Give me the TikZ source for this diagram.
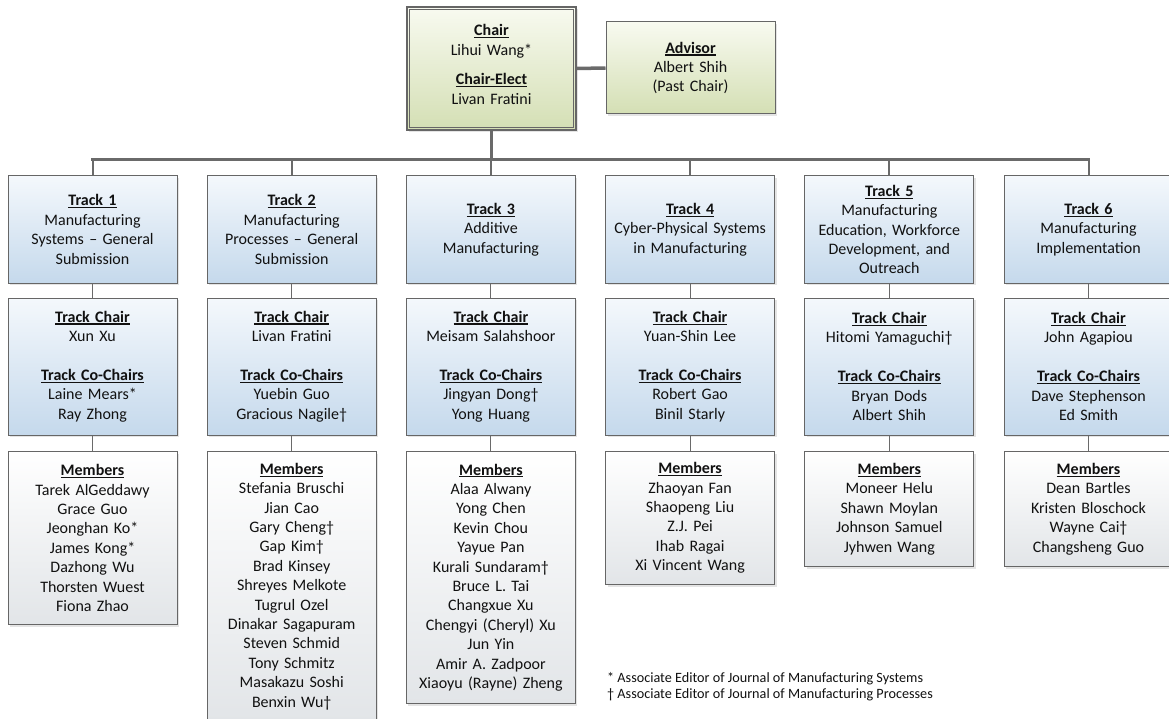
\documentclass[tikz,border=0pt]{standalone}
\usepackage{fontspec}
\setmainfont{Carlito}
\usetikzlibrary{shadows}
\definecolor{linegray}{HTML}{6A6A6A}
\definecolor{bordergray}{HTML}{666666}
\definecolor{txt}{HTML}{111111}
\definecolor{bluetop}{HTML}{F4F8FC}
\definecolor{bluebot}{HTML}{C5D9EC}
\definecolor{memtop}{HTML}{FFFFFF}
\definecolor{membot}{HTML}{E2E5E8}
\definecolor{greentop}{HTML}{F8FAF0}
\definecolor{greenbot}{HTML}{D4DFB4}
\newcommand\ulhead[1]{\textbf{\setbox0\hbox{#1}\rlap{\rule[-2.4pt]{\wd0}{1.1pt}}\box0}}
\tikzset{
  basebox/.style={draw=bordergray, line width=1pt, rectangle, minimum width=169pt,
    text width=165pt, align=center, inner sep=0pt, text=txt,
    font=\fontsize{16}{19.4}\selectfont,
    drop shadow={shadow xshift=2pt, shadow yshift=-2pt, fill=black!35, opacity=0.3}},
  trackbox/.style={basebox, top color=bluetop, bottom color=bluebot, minimum height=107pt},
  chairbox/.style={basebox, top color=bluetop, bottom color=bluebot, minimum height=137pt},
  membox/.style={basebox, top color=memtop, bottom color=membot, minimum height=#1},
  greenbox/.style={basebox, top color=greentop, bottom color=greenbot},
  plaintext/.style={align=center, inner sep=0pt, text=txt, text width=165pt,
    font=\fontsize{16}{19.4}\selectfont},
  thinlink/.style={draw=linegray, line width=1.1pt},
  droplink/.style={draw=linegray, line width=2pt},
  buslink/.style={draw=linegray, line width=3pt},
}
\begin{document}
\begin{tikzpicture}[x=1pt,y=-1pt]
\clip (0,0) rectangle (1169,719);
\fill[white] (0,0) rectangle (1169,719);
% top
\node[greenbox, minimum height=123pt, line width=1.6pt] (chair) at (491.5,68.5) {};
\draw[bordergray, line width=1pt] ([shift={(3pt,-3pt)}]chair.north west) rectangle ([shift={(-3pt,3pt)}]chair.south east);
\node[plaintext] (chairtxt) at (491.5,64.5)
  {\ulhead{Chair}\\Lihui Wang*\\[10pt]\ulhead{Chair-Elect}\\Livan Fratini};
\node[greenbox, minimum height=92pt] (adv) at (690.5,68)
  {\ulhead{Advisor}\\Albert Shih\\(Past Chair)};
\draw[draw=linegray, line width=3.5pt] (chair.east) -- (adv.west);
% tracks
\node[trackbox] (t1) at (92.5,229.5) {\ulhead{Track 1}\\Manufacturing\\Systems – General\\Submission};
\node[trackbox] (t2) at (291.7,229.5) {\ulhead{Track 2}\\Manufacturing\\Processes – General\\Submission};
\node[trackbox] (t3) at (490.9,229.5) {\ulhead{Track 3}\\Additive\\Manufacturing};
\node[trackbox] (t4) at (690.1,229.5) {\ulhead{Track 4}\\Cyber-Physical Systems\\in Manufacturing};
\node[trackbox] (t5) at (889.3,229.5) {\ulhead{Track 5}\\Manufacturing\\Education, Workforce\\Development, and\\Outreach};
\node[trackbox] (t6) at (1088.5,229.5) {\ulhead{Track 6}\\Manufacturing\\Implementation};
% bus
\coordinate (bus) at (491.5,160);
\draw[buslink] (chair.south) -- (chair.south |- bus);
\draw[buslink, line cap=rect] (t1.north |- bus) -- (t6.north |- bus);
\foreach \t in {t1,t2,t3,t4,t5,t6} { \draw[droplink] (\t.north) -- (\t.north |- bus); }
% track chairs
\node[chairbox] (c1) at (92.5,366.5) {\ulhead{Track Chair}\\Xun Xu\\[19.5pt]\ulhead{Track Co-Chairs}\\Laine Mears*\\Ray Zhong};
\node[chairbox] (c2) at (291.7,366.5) {\ulhead{Track Chair}\\Livan Fratini\\[19.5pt]\ulhead{Track Co-Chairs}\\Yuebin Guo\\Gracious Nagile†};
\node[chairbox] (c3) at (490.9,366.5) {\ulhead{Track Chair}\\Meisam Salahshoor\\[19.5pt]\ulhead{Track Co-Chairs}\\Jingyan Dong†\\Yong Huang};
\node[chairbox] (c4) at (690.1,366.5) {\ulhead{Track Chair}\\Yuan-Shin Lee\\[19.5pt]\ulhead{Track Co-Chairs}\\Robert Gao\\Binil Starly};
\node[chairbox] (c5) at (889.3,366.5) {\ulhead{Track Chair}\\Hitomi Yamaguchi†\\[19.5pt]\ulhead{Track Co-Chairs}\\Bryan Dods\\Albert Shih};
\node[chairbox] (c6) at (1088.5,366.5) {\ulhead{Track Chair}\\John Agapiou\\[19.5pt]\ulhead{Track Co-Chairs}\\Dave Stephenson\\Ed Smith};
% members
\node[membox=173pt, anchor=north] (m1) at (92.5,451) {\ulhead{Members}\\Tarek AlGeddawy\\Grace Guo\\Jeonghan Ko*\\James Kong*\\Dazhong Wu\\Thorsten Wuest\\Fiona Zhao};
\node[membox=270pt, anchor=north] (m2) at (291.7,451) {\ulhead{Members}\\Stefania Bruschi\\Jian Cao\\Gary Cheng†\\Gap Kim†\\Brad Kinsey\\Shreyes Melkote\\Tugrul Ozel\\Dinakar Sagapuram\\Steven Schmid\\Tony Schmitz\\Masakazu Soshi\\Benxin Wu†};
\node[membox=252pt, anchor=north] (m3) at (490.9,451) {\ulhead{Members}\\Alaa Alwany\\Yong Chen\\Kevin Chou\\Yayue Pan\\Kurali Sundaram†\\Bruce L. Tai\\Changxue Xu\\Chengyi (Cheryl) Xu\\Jun Yin\\Amir A. Zadpoor\\Xiaoyu (Rayne) Zheng};
\node[membox=133pt, anchor=north] (m4) at (690.1,451) {\ulhead{Members}\\Zhaoyan Fan\\Shaopeng Liu\\Z.J. Pei\\Ihab Ragai\\Xi Vincent Wang};
\node[membox=115pt, anchor=north] (m5) at (889.3,451) {\ulhead{Members}\\Moneer Helu\\Shawn Moylan\\Johnson Samuel\\Jyhwen Wang};
\node[membox=115pt, anchor=north] (m6) at (1088.5,451) {\ulhead{Members}\\Dean Bartles\\Kristen Bloschock\\Wayne Cai†\\Changsheng Guo};
\foreach \i in {1,...,6} {
  \draw[thinlink] (t\i.south) -- (c\i.north);
  \draw[thinlink] (c\i.south) -- (m\i.north);
}
% footnotes
\node[anchor=west, align=left, inner sep=0pt, text=txt, font=\fontsize{14.2}{16}\selectfont] (notes) at (607,687)
  {* Associate Editor of Journal of Manufacturing Systems\\† Associate Editor of Journal of Manufacturing Processes};
\end{tikzpicture}
\end{document}
